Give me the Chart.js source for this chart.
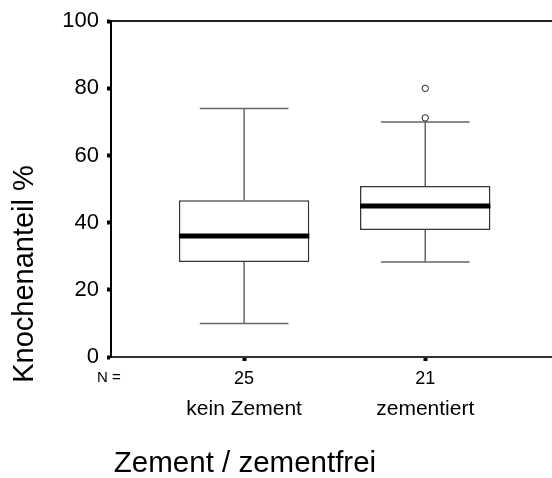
<!DOCTYPE html>
<html>
<head>
<meta charset="utf-8">
<script src="https://cdn.jsdelivr.net/npm/chart.js@4"></script>
<style>
  html, body { margin: 0; background: #fff; overflow: hidden; }
  #wrap { width: 557px; height: 478px; }
</style>
</head>
<body>
<div id="wrap"><canvas id="js--boxplot"></canvas></div>
<script>
// groups and their sample sizes
const groups = ["kein Zement", "zementiert"];
const nCounts = ["25", "21"];
const groupPos = [1, 2];

// five-number summaries per group
const whiskerLow = [10, 28.3];
const quart1 = [28.3, 37.8];
const medians = [36, 45];
const quart3 = [46.7, 50.9];
const whiskerHigh = [74, 70];

// outliers (group position, value)
const outlierGroup = [2, 2];
const outlierValues = [80, 71.2];

const yTicks = [0, 20, 40, 60, 80, 100];

const font = "'Liberation Sans', Arial, sans-serif";

const boxData = groupPos.map(function(g, i){
    return { x: g, y: [quart1[i], quart3[i]] };
});
const outlierData = outlierValues.map(function(v, i){
    return { x: outlierGroup[i], y: v };
});

// whiskers and median lines, drawn right after the boxes
const boxExtras = {
    id: "boxExtras",
    afterDatasetDraw: function(chart, args){
        if (args.index !== 0) return;
        const ctx = chart.ctx;
        const xs = chart.scales.x;
        const ys = chart.scales.y;
        const bars = args.meta.data;
        ctx.save();
        for (let i = 0; i < groupPos.length; i++){
            const cx = xs.getPixelForValue(groupPos[i]);
            const w = bars[i].width;
            const cap = w * 0.34;
            ctx.strokeStyle = "#666";
            ctx.lineWidth = 1.5;
            ctx.beginPath();
            ctx.moveTo(cx, ys.getPixelForValue(quart3[i]));
            ctx.lineTo(cx, ys.getPixelForValue(whiskerHigh[i]));
            ctx.moveTo(cx, ys.getPixelForValue(quart1[i]));
            ctx.lineTo(cx, ys.getPixelForValue(whiskerLow[i]));
            ctx.moveTo(cx - cap, ys.getPixelForValue(whiskerHigh[i]));
            ctx.lineTo(cx + cap, ys.getPixelForValue(whiskerHigh[i]));
            ctx.moveTo(cx - cap, ys.getPixelForValue(whiskerLow[i]));
            ctx.lineTo(cx + cap, ys.getPixelForValue(whiskerLow[i]));
            ctx.stroke();

            ctx.strokeStyle = "#000";
            ctx.lineWidth = 5;
            ctx.beginPath();
            ctx.moveTo(cx - w / 2, ys.getPixelForValue(medians[i]));
            ctx.lineTo(cx + w / 2, ys.getPixelForValue(medians[i]));
            ctx.stroke();
        }
        ctx.restore();
    }
};

// axis titles and the "N =" row label
const extraText = {
    id: "extraText",
    afterDraw: function(chart){
        const ctx = chart.ctx;
        const area = chart.chartArea;
        ctx.save();
        ctx.fillStyle = "#000";
        ctx.textAlign = "center";
        ctx.textBaseline = "middle";

        ctx.font = "15px " + font;
        ctx.fillText("N =", area.left - 2, 378);

        ctx.font = "29.5px " + font;
        ctx.fillText("Zement / zementfrei", 245, 464);

        ctx.font = "29px " + font;
        ctx.translate(25, 274);
        ctx.rotate(-Math.PI / 2);
        ctx.fillText("Knochenanteil %", 0, 0);
        ctx.restore();
    }
};

function groupTicks(scale){
    scale.ticks = groupPos.map(function(v){ return { value: v }; });
}

const config = {
    data: {
        datasets: [
            {
                type: "bar",
                data: boxData,
                backgroundColor: "#fff",
                borderColor: "#333",
                borderWidth: 1.5,
                borderSkipped: false,
                order: 2
            },
            {
                type: "scatter",
                data: outlierData,
                pointStyle: "circle",
                radius: 3.2,
                backgroundColor: "#fff",
                borderColor: "#222",
                borderWidth: 1,
                order: 1
            }
        ]
    },
    options: {
        responsive: true,
        maintainAspectRatio: false,
        animation: false,
        layout: { padding: { top: 21, right: 0, bottom: 48, left: 0 } },
        plugins: {
            legend: { display: false },
            tooltip: { enabled: false }
        },
        scales: {
            x: {
                type: "linear",
                position: "bottom",
                min: 0.265,
                max: 2.7,
                offset: false,
                afterBuildTicks: groupTicks,
                afterFit: function(s){ s.height = 30; },
                grid: { offset: false, drawOnChartArea: false, tickLength: 4, tickWidth: 4, color: "#000" },
                border: { color: "#333", width: 2 },
                ticks: {
                    color: "#000",
                    padding: 7,
                    maxRotation: 0,
                    font: { family: font, size: 18 },
                    callback: function(v, i){ return nCounts[i]; }
                }
            },
            x2: {
                type: "linear",
                position: "bottom",
                min: 0.265,
                max: 2.7,
                offset: false,
                afterBuildTicks: groupTicks,
                afterFit: function(s){ s.height = 43; },
                grid: { display: false, offset: false },
                border: { display: false },
                ticks: {
                    color: "#000",
                    padding: 2,
                    maxRotation: 0,
                    font: { family: font, size: 21 },
                    callback: function(v, i){ return groups[i]; }
                }
            },
            xTop: {
                type: "linear",
                position: "top",
                min: 0.265,
                max: 2.7,
                offset: false,
                afterFit: function(s){ s.height = 0; },
                grid: { display: false },
                border: { color: "#222", width: 2 },
                ticks: { display: false }
            },
            y: {
                type: "linear",
                min: 0,
                max: 100,
                afterBuildTicks: function(s){
                    s.ticks = yTicks.map(function(v){ return { value: v }; });
                },
                afterFit: function(s){ s.width = 111; },
                grid: { drawOnChartArea: false, tickLength: 4, tickWidth: 4, color: "#000" },
                border: { color: "#000", width: 2 },
                ticks: {
                    color: "#000",
                    padding: 8,
                    font: { family: font, size: 22 }
                }
            }
        }
    },
    plugins: [boxExtras, extraText]
};

new Chart(document.getElementById("js--boxplot"), config);
</script>
</body>
</html>
